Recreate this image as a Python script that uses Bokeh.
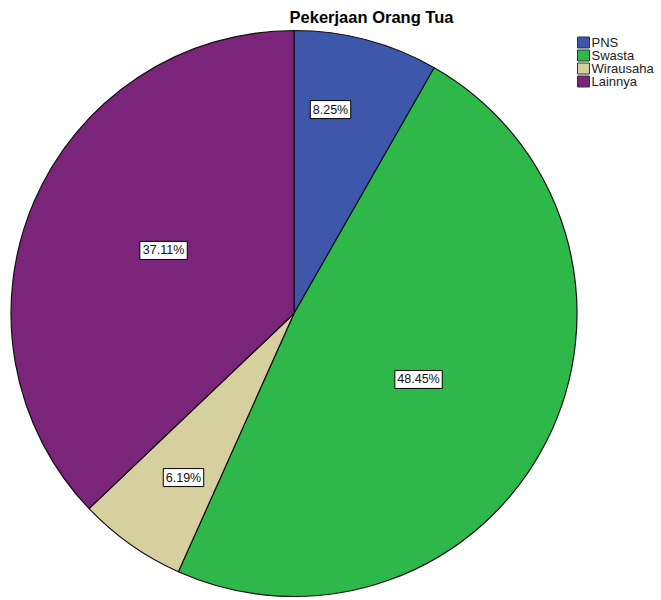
import math
from bokeh.plotting import figure
from bokeh.models import Range1d, ColumnDataSource
from bokeh.core.properties import value
from bokeh.embed import file_html
from bokeh.resources import INLINE

title = "Pekerjaan Orang Tua"
categories = ["PNS", "Swasta", "Wirausaha", "Lainnya"]
percents = [8.25, 48.45, 6.19, 37.11]
label_texts = ["8.25%", "48.45%", "6.19%", "37.11%"]
colors = ["#3D57AA", "#2EB84A", "#D6CF9E", "#7A2579"]
# label placement style: radial fraction and angular offset (deg) from slice middle
label_dist = [0.732, 0.498, 0.699, 0.512]
label_dang = [-4.7, 1.0, -1.3, 2.6]

W, H = 661, 600
cx, cy, R = 293.5, H - 313, 283
FS = 12.5

p = figure(width=W, height=H, x_range=Range1d(0, W), y_range=Range1d(0, H),
           output_backend="svg", toolbar_location=None,
           x_axis_location=None, y_axis_location=None, min_border=0)
p.grid.visible = False
p.outline_line_color = None
p.background_fill_color = "white"

cw = {".": 0.278, "%": 0.889}
def text_w(s):
    return sum(cw.get(c, 0.556) for c in s) * FS

total = sum(percents)
starts, ends, lx, ly, bw = [], [], [], [], []
acc = 0.0
for v, d, da, t in zip(percents, label_dist, label_dang, label_texts):
    a0 = math.pi / 2 - 2 * math.pi * acc / total
    a1 = math.pi / 2 - 2 * math.pi * (acc + v) / total
    starts.append(a0)
    ends.append(a1)
    mid = (a0 + a1) / 2 - math.radians(da)
    lx.append(cx + d * R * math.cos(mid))
    ly.append(cy + d * R * math.sin(mid))
    bw.append(text_w(t) + 5)
    acc += v

src = ColumnDataSource(dict(start=starts, end=ends, color=colors, cat=categories,
                            lx=lx, ly=ly, txt=label_texts, bw=bw))
p.wedge(x=cx, y=cy, radius=R, radius_units="screen", start_angle="start", end_angle="end",
        direction="clock", fill_color="color", line_color="#111111", line_width=1.2, source=src)

p.rect(x="lx", y="ly", width="bw", height=18, source=src, fill_color="white",
       line_color="black", line_width=1)
p.text(x="lx", y="ly", text="txt", source=src, text_align="center",
       text_baseline="middle", text_font=value("Liberation Sans"),
       text_font_size=f"{FS}px", text_color="#111111")

# title
p.text(x=[371], y=[H - 16], text=[title], text_align="center", text_baseline="middle",
       text_font=value("Liberation Sans"), text_font_style="bold", text_font_size="16.5px",
       text_color="black")

# legend
ly0 = [H - 42 - 13 * i for i in range(len(categories))]
p.rect(x=[583] * len(categories), y=ly0, width=12, height=11, fill_color=colors,
       line_color="#333333", line_width=1)
p.text(x=[591] * len(categories), y=ly0, text=categories, text_align="left",
       text_baseline="middle", text_font=value("Liberation Sans"), text_font_size="13px",
       text_color="#222222")

open("out.html", "w").write(file_html(p, INLINE))
